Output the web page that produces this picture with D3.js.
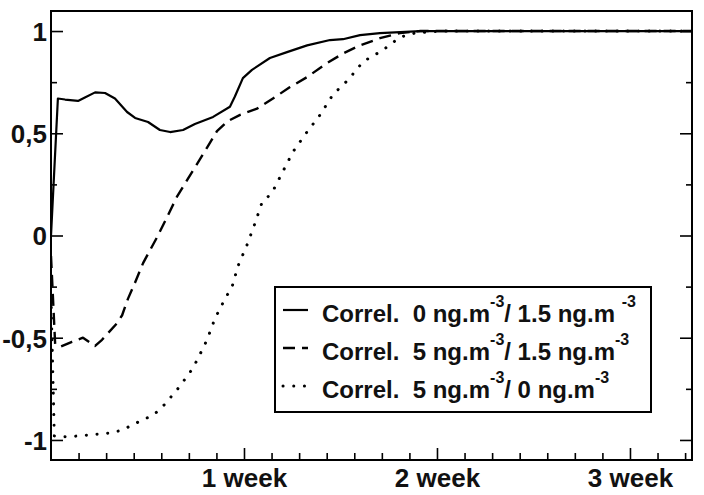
<!DOCTYPE html>
<html>
<head>
<meta charset="utf-8">
<script src="https://cdn.jsdelivr.net/npm/d3@7/dist/d3.min.js"></script>
<style>
  html, body { margin: 0; padding: 0; background: #fff; }
  svg { display: block; }
</style>
</head>
<body>
<div id="chart"></div>
<script>
// time in days, correlation values
const solidDays = [0, 0.25, 0.51, 0.98, 1.23, 1.6, 1.96, 2.32, 2.76, 3.05, 3.52, 3.95, 4.32, 4.79, 5.22, 5.88, 6.49, 6.67, 6.96, 7.29, 7.94, 8.56, 9.29, 10.12, 10.59, 11.21, 11.93, 12.66, 13.4, 23.25];
const solidVals = [0.0, 0.67, 0.665, 0.658, 0.675, 0.70, 0.697, 0.67, 0.604, 0.575, 0.555, 0.516, 0.506, 0.516, 0.545, 0.58, 0.63, 0.68, 0.77, 0.81, 0.868, 0.897, 0.93, 0.956, 0.96, 0.98, 0.99, 0.995, 1.0, 1.0];

const dashDays = [0, 0.15, 0.33, 0.76, 1.16, 1.6, 1.85, 2.39, 2.58, 2.79, 3.05, 3.34, 3.52, 3.84, 4.21, 4.57, 4.93, 5.3, 5.66, 6.02, 6.42, 6.86, 7.47, 8.05, 8.67, 9.29, 10.01, 10.59, 11.21, 11.93, 12.66, 13.4, 23.25];
const dashVals = [-0.1, -0.53, -0.545, -0.52, -0.50, -0.54, -0.51, -0.43, -0.39, -0.31, -0.23, -0.135, -0.09, -0.01, 0.09, 0.19, 0.27, 0.35, 0.43, 0.51, 0.56, 0.59, 0.62, 0.67, 0.726, 0.775, 0.843, 0.89, 0.93, 0.965, 0.99, 1.0, 1.0];

const dotDays = [0, 0.12, 0.58, 1.34, 2.21, 2.61, 3.34, 3.7, 4.03, 4.57, 5.04, 5.3, 5.66, 5.95, 6.31, 6.57, 6.78, 7.11, 7.4, 7.65, 8.02, 8.38, 8.78, 9.25, 9.76, 10.23, 10.77, 11.32, 12.04, 12.66, 13.2, 14.1, 23.25];
const dotVals = [-0.3, -0.98, -0.985, -0.976, -0.965, -0.95, -0.9, -0.88, -0.84, -0.755, -0.67, -0.61, -0.51, -0.405, -0.31, -0.25, -0.15, -0.046, 0.06, 0.16, 0.21, 0.305, 0.41, 0.50, 0.59, 0.69, 0.76, 0.85, 0.907, 0.97, 0.99, 1.0, 1.0];

const xMajorTicks = [7, 14, 21];
const xMajorLabels = ['1 week', '2 week', '3 week'];
const xMinorTicks = [1, 2, 3, 4, 5, 6, 8, 9, 10, 11, 12, 13, 15, 16, 17, 18, 19, 20, 22, 23];
const yMajorTicks = [-1, -0.5, 0, 0.5, 1];
const yMajorLabels = ['-1', '-0,5', '0', '0,5', '1'];
const yMinorTicks = [-0.75, -0.25, 0.25, 0.75];

const legendLabels = [
  [['Correl.  0 ng.m', false], ['-3', true], ['/ 1.5 ng.m ', false], ['-3', true]],
  [['Correl.  5 ng.m', false], ['-3', true], ['/ 1.5 ng.m', false], ['-3', true]],
  [['Correl.  5 ng.m', false], ['-3', true], ['/ 0 ng.m', false], ['-3', true]]
];

const width = 704, height = 495;
const margin = { top: 11, right: 12, bottom: 35, left: 51 };
const innerW = width - margin.left - margin.right;
const innerH = height - margin.top - margin.bottom;
const font = '"Liberation Sans", Arial, sans-serif';

const svg = d3.select('#chart').append('svg')
  .attr('width', width).attr('height', height);
const g = svg.append('g').attr('transform', `translate(${margin.left},${margin.top})`);

const x = d3.scaleLinear().domain([0, 23.25]).range([0, innerW]);
const y = d3.scaleLinear().domain([-1.098, 1.098]).range([innerH, 0]);

// axes: ticks point inward
const styleAxis = sel => {
  sel.select('.domain').remove();
  sel.selectAll('line').style('stroke', '#000').style('stroke-width', 1.6);
  sel.selectAll('text').style('fill', '#111').style('font-family', font)
    .style('font-size', '26px').style('font-weight', 'bold');
};

g.append('g')
  .call(d3.axisLeft(y).tickValues(yMajorTicks).tickSizeInner(-12).tickSizeOuter(0).tickPadding(4)
    .tickFormat((d, i) => yMajorLabels[i]))
  .call(styleAxis)
  .call(s => s.selectAll('text').attr('dy', '0.36em'));

g.append('g')
  .call(d3.axisLeft(y).tickValues(yMinorTicks).tickSizeInner(-6).tickSizeOuter(0).tickFormat(''))
  .call(styleAxis);

g.append('g').attr('transform', `translate(${innerW},0)`)
  .call(d3.axisRight(y).tickValues(yMajorTicks).tickSizeInner(-12).tickSizeOuter(0).tickFormat(''))
  .call(styleAxis);

g.append('g').attr('transform', `translate(${innerW},0)`)
  .call(d3.axisRight(y).tickValues(yMinorTicks).tickSizeInner(-6).tickSizeOuter(0).tickFormat(''))
  .call(styleAxis);

g.append('g').attr('transform', `translate(0,${innerH})`)
  .call(d3.axisBottom(x).tickValues(xMajorTicks).tickSizeInner(-12).tickSizeOuter(0).tickPadding(8)
    .tickFormat((d, i) => xMajorLabels[i]))
  .call(styleAxis)
  .call(s => s.selectAll('text').attr('dy', '0.72em'));

g.append('g').attr('transform', `translate(0,${innerH})`)
  .call(d3.axisBottom(x).tickValues(xMinorTicks).tickSizeInner(-7).tickSizeOuter(0).tickFormat(''))
  .call(styleAxis);

// curves
svg.append('defs').append('clipPath').attr('id', 'plot-clip')
  .append('rect').attr('width', innerW).attr('height', innerH);

const line = d3.line().x(d => x(d[0])).y(d => y(d[1]));
const series = [
  { days: solidDays, vals: solidVals, dash: null, width: 2.2, cap: 'butt' },
  { days: dashDays, vals: dashVals, dash: '12,7', width: 2.4, cap: 'butt' },
  { days: dotDays, vals: dotVals, dash: '0.1,10.6', width: 3, cap: 'round' }
];

const gLines = g.append('g').attr('clip-path', 'url(#plot-clip)');
series.forEach(s => {
  gLines.append('path')
    .datum(d3.zip(s.days, s.vals))
    .attr('d', line)
    .attr('fill', 'none')
    .attr('stroke', '#000')
    .attr('stroke-width', s.width)
    .attr('stroke-linecap', s.cap)
    .attr('stroke-linejoin', 'round')
    .attr('stroke-dasharray', s.dash);
});

// frame
g.append('rect')
  .attr('width', innerW).attr('height', innerH)
  .attr('fill', 'none').attr('stroke', '#000').attr('stroke-width', 2);

// legend
const legend = svg.append('g').attr('transform', 'translate(275,287)');
legend.append('rect')
  .attr('width', 376).attr('height', 125)
  .attr('fill', '#fff').attr('stroke', '#000').attr('stroke-width', 2);

legendLabels.forEach((parts, i) => {
  const base = 35 + i * 38;
  const s = series[i];
  legend.append('line')
    .attr('x1', 8).attr('x2', 33).attr('y1', base - 12).attr('y2', base - 12)
    .attr('stroke', '#000')
    .attr('stroke-width', s.width)
    .attr('stroke-linecap', s.cap)
    .attr('stroke-dasharray', s.dash);
  const t = legend.append('text')
    .attr('x', 47).attr('y', base)
    .style('font-family', font).style('font-weight', 'bold')
    .style('font-size', '24px').style('fill', '#111')
    .style('white-space', 'pre');
  parts.forEach(([txt, sup], j) => {
    t.append('tspan')
      .attr('dy', sup ? -15 : (j === 0 ? 0 : 15))
      .style('font-size', sup ? '16px' : '24px')
      .text(txt);
  });
});
</script>
</body>
</html>
